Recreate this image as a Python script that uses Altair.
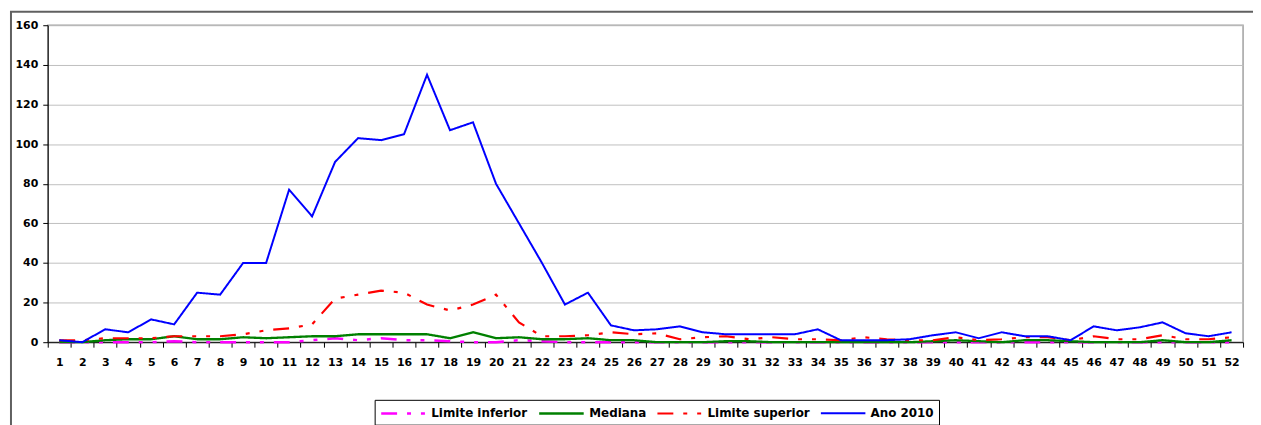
import altair as alt
import pandas as pd

weeks = list(range(1, 53))
series_names = ["Limite inferior", "Mediana", "Limite superior", "Ano 2010"]

limite_inferior = [0, 0, 0, 0, 0, 0.5, 0, 0, 0, 0, 0, 1, 2, 1, 2, 1, 1, 0.5, 0, 0,
                   1, 0.5, 0, 0, 0, 0, 0, 0, 0, 0, 0, 0, 0, 0, 0, 0, 0, 0, 0, 0,
                   0, 0, 0, 0, 0, 0, 0, 0, 0, 0, 0, 0]
mediana = [0, 0, 1, 1.5, 1.5, 3, 1.5, 1.5, 2.5, 2, 2.5, 3, 3, 4, 4, 4, 4, 2, 5, 2,
           2.5, 1.5, 1.5, 2, 1, 1, 0, 0, 0, 0.5, 0.5, 0, 0, 0, 0, 0, 0, 0, 0.5, 1,
           0.5, 0, 1, 1, 0.5, 0, 0, 0, 1, 0, 0, 1]
limite_superior = [1, 1, 2, 2, 2, 3, 3, 3, 4, 6, 7, 9, 22, 24, 26, 25, 19, 16, 19, 24,
                   10, 3, 3, 3.5, 5, 4, 4.5, 1.5, 2.5, 3, 1.5, 2.5, 1.5, 1.5, 1, 2.5, 1.5, 1, 1, 2.5,
                   1, 1.5, 2.5, 2.5, 1, 3, 1.5, 1.5, 3.5, 1.5, 1.5, 2.5]
ano_2010 = [1, 0, 6.5, 5, 11.5, 9, 25, 24, 40, 40, 77, 63.5, 91, 103, 102, 105, 135, 107, 111, 80,
            60, 40, 19, 25, 8.5, 6, 6.5, 8, 5, 4, 4, 4, 4, 6.5, 1, 1, 1, 1.5, 3.5, 5,
            2, 5, 3, 3, 1, 8, 6, 7.5, 10, 4.5, 3, 5]

y_ticks = [0, 20, 40, 60, 80, 100, 120, 140, 160]

colors = ["#ff00ff", "#008000", "#ff0000", "#0000ff"]
dash_dotdot = [16, 10, 4, 10, 4, 10]
dashes = [dash_dotdot, [1, 0], dash_dotdot, [1, 0]]
widths = [2.5, 2, 2.5, 2]

rows = []
for name, vals in zip(series_names, [limite_inferior, mediana, limite_superior, ano_2010]):
    for w, v in zip(weeks, vals):
        rows.append({"Semana": w, "Serie": name, "Valor": v})
df = pd.DataFrame(rows)

x_axis_values = sorted(set([w - 0.5 for w in weeks] + weeks + [weeks[-1] + 0.5]))

legend = alt.Legend(
    title=None,
    orient="none",
    legendX=329,
    legendY=377,
    direction="horizontal",
    strokeColor="#000000",
    fillColor="#ffffff",
    padding=5,
    symbolType="M-3.2,0L3.2,0",
    symbolSize=196,
    symbolOffset=15.5,
    labelOffset=19.5,
    columnPadding=6,
    labelFont="DejaVu Sans",
    labelFontWeight="bold",
    labelFontSize=12,
    labelColor="#000000",
)

lines = alt.Chart(df).mark_line().encode(
    x=alt.X(
        "Semana:Q",
        scale=alt.Scale(domain=[0.5, 52.5], nice=False, zero=False),
        axis=alt.Axis(
            title=None,
            values=x_axis_values,
            labelExpr="datum.value % 1 === 0 ? format(datum.value, 'd') : ''",
            tickOpacity={"condition": {"test": "datum.value % 1 === 0", "value": 0}, "value": 1},
            grid=False,
            labelOverlap=False,
            labelFlush=False,
            labelPadding=9,
        ),
    ),
    y=alt.Y(
        "Valor:Q",
        scale=alt.Scale(domain=[0, 160], nice=False),
        axis=alt.Axis(title=None, values=y_ticks, grid=True, labelPadding=5),
    ),
    color=alt.Color("Serie:N", scale=alt.Scale(domain=series_names, range=colors), legend=legend),
    strokeDash=alt.StrokeDash("Serie:N", scale=alt.Scale(domain=series_names, range=dashes)),
    strokeWidth=alt.StrokeWidth("Serie:N", scale=alt.Scale(domain=series_names, range=widths)),
    order=alt.value(0),
)

frame_v = alt.Chart(pd.DataFrame({"k": [0]})).mark_rule(color="#606060", strokeWidth=2).encode(
    x=alt.value(-37), y=alt.value(-13.5), y2=alt.value(430)
)
frame_h = alt.Chart(pd.DataFrame({"k": [0]})).mark_rule(color="#606060", strokeWidth=2).encode(
    x=alt.value(-38), x2=alt.value(1240), y=alt.value(-13.5)
)

chart = alt.layer(lines, frame_v, frame_h).properties(
    width=1203,
    height=319,
    padding={"left": 40, "top": 16, "right": 10, "bottom": 82},
    autosize=alt.AutoSizeParams(type="none"),
    background="#ffffff",
).configure_view(
    stroke="#a0a0a0", strokeWidth=1.5
).configure_axis(
    domainColor="#000000",
    domainWidth=1,
    tickColor="#000000",
    tickSize=5,
    gridColor="#c0c0c0",
    gridWidth=1,
    labelFont="DejaVu Sans",
    labelFontWeight="bold",
    labelFontSize=11,
    labelColor="#000000",
)

chart.save("out.html", embed_options={"renderer": "svg", "actions": False})
